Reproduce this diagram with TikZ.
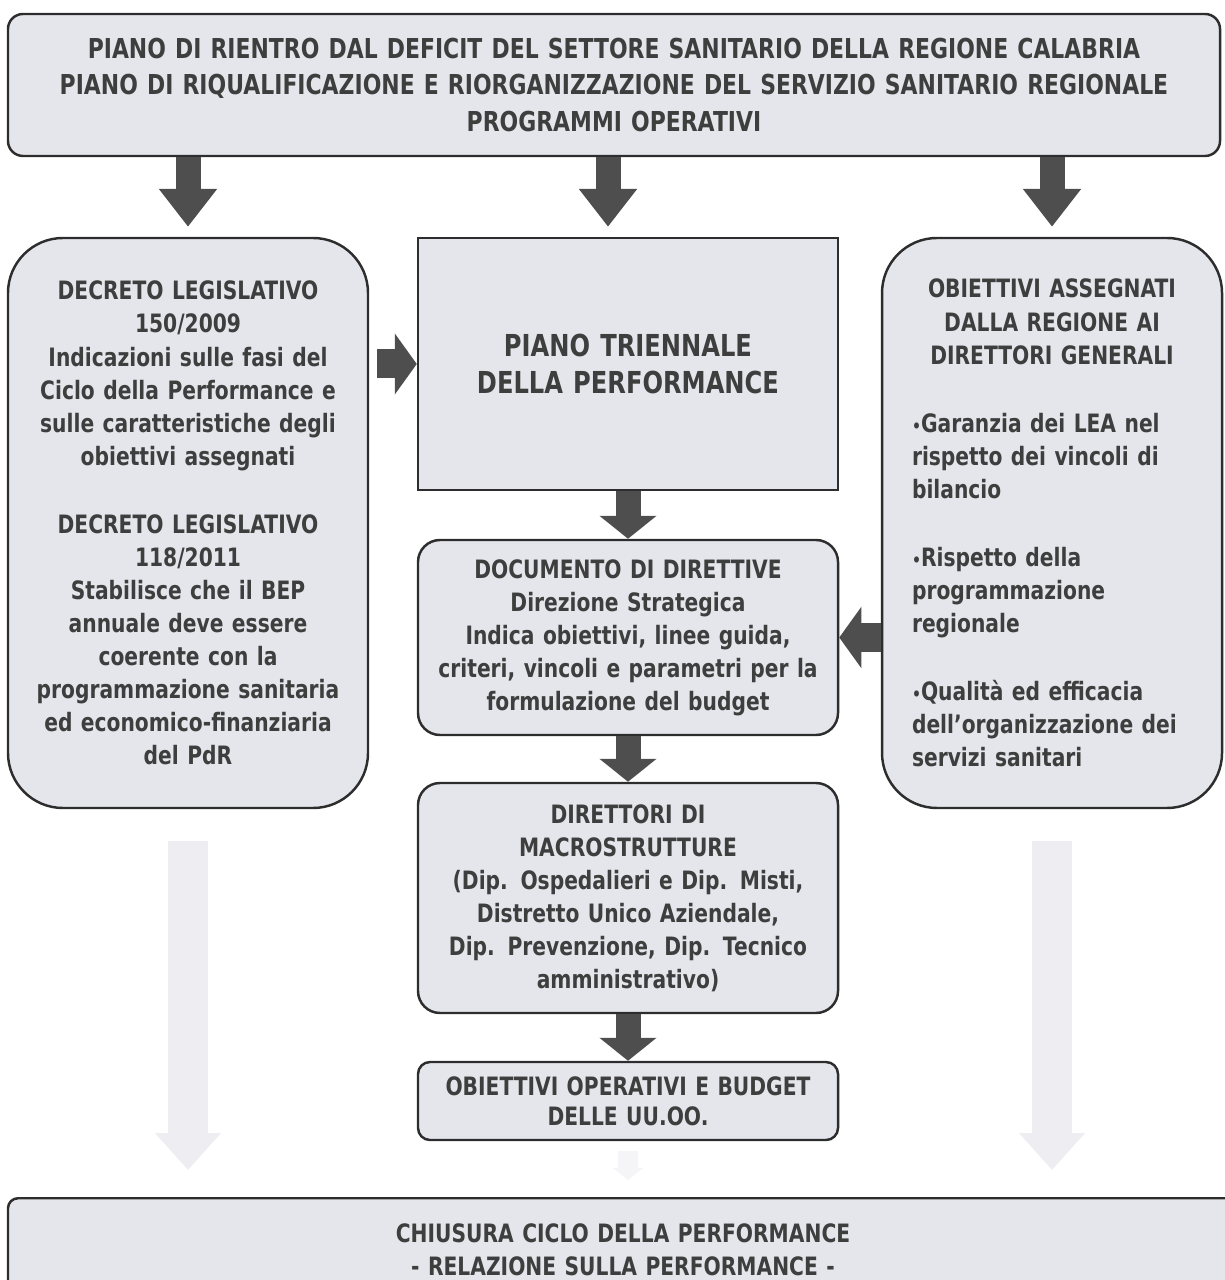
\documentclass[tikz,border=0pt]{standalone}
\usepackage[rgb]{xcolor}
\usepackage{fontspec}
\setmainfont{DejaVu Sans}[FakeStretch=0.8]
\usepackage{tikz}
\usetikzlibrary{arrows.meta}

\definecolor{boxgray}{RGB}{229,230,235}
\definecolor{linegray}{RGB}{45,45,45}
\definecolor{arrowgray}{RGB}{78,78,78}
\definecolor{textgray}{RGB}{62,62,62}
\definecolor{fadegray}{RGB}{238,238,242}

\begin{document}
\begin{tikzpicture}[
  box/.style={draw=linegray, fill=boxgray, line width=0.7pt, text=textgray, align=center,
    inner sep=0pt, font=\bfseries\fontsize{7.2}{9.4}\selectfont},
  bigarrow/.style={draw=arrowgray, line width=2.5mm, -{Triangle[width=5.6mm,length=3.8mm]}},
  midarrow/.style={draw=arrowgray, line width=2.5mm, -{Triangle[width=5.6mm,length=2.3mm]}},
  sidearrow/.style={draw=arrowgray, line width=2.9mm, -{Triangle[width=6mm,length=2.2mm]}},
  fadearrow/.style={draw=fadegray, line width=4mm, -{Triangle[width=6.4mm,length=3.7mm]}}
]

\useasboundingbox (0,0) rectangle (12.24,-12.80);


% Piano di rientro
\path
(6.14,-0.85) node[box, rounded corners=0.15cm, minimum width=12.12cm, minimum height=1.42cm,
  text width=12cm, font=\bfseries\fontsize{7.8}{10.5}\selectfont] (rientro)
  {PIANO DI RIENTRO DAL DEFICIT DEL SETTORE SANITARIO DELLA REGIONE CALABRIA\\
   PIANO DI RIQUALIFICAZIONE E RIORGANIZZAZIONE DEL SERVIZIO SANITARIO REGIONALE\\
   PROGRAMMI OPERATIVI};


% Decreti legislativi
\path
(1.88,-5.23) node[box, rounded corners=0.55cm, minimum width=3.6cm, minimum height=5.7cm,
  text width=3.4cm] (decreto)
  {DECRETO LEGISLATIVO\\150/2009\\Indicazioni sulle fasi del\\Ciclo della Performance e\\
   sulle caratteristiche degli\\obiettivi assegnati\\[0.35cm]
   DECRETO LEGISLATIVO\\118/2011\\Stabilisce che il BEP\\annuale deve essere\\
   coerente con la\\programmazione sanitaria\\ed economico-finanziaria\\del PdR};


% Obiettivi della regione
\path
(10.52,-5.23) node[box, rounded corners=0.55cm, minimum width=3.4cm, minimum height=5.7cm,
  text width=2.8cm, align=left] (obreg)
  {{\centering OBIETTIVI ASSEGNATI\\DALLA REGIONE AI\\DIRETTORI GENERALI\par}\vspace{0.35cm}
   {\fontsize{5}{5}\selectfont •}Garanzia dei LEA nel\\rispetto dei vincoli di\\bilancio\\[0.35cm]
   {\fontsize{5}{5}\selectfont •}Rispetto della\\programmazione\\regionale\\[0.35cm]
   {\fontsize{5}{5}\selectfont •}Qualità ed efficacia\\dell’organizzazione dei\\servizi sanitari};


% Colonna centrale
\path
(6.28,-3.64) node[box, minimum width=4.2cm, minimum height=2.52cm, text width=4cm,
  font=\bfseries\fontsize{8.6}{10.5}\selectfont] (piano)
  {PIANO TRIENNALE\\DELLA PERFORMANCE}
(6.28,-6.375) node[box, rounded corners=0.22cm, minimum width=4.2cm, minimum height=1.95cm,
  text width=4cm] (documento)
  {DOCUMENTO DI DIRETTIVE\\Direzione Strategica\\Indica obiettivi, linee guida,\\
   criteri, vincoli e parametri per la\\formulazione del budget}
(6.28,-8.98) node[box, rounded corners=0.22cm, minimum width=4.2cm, minimum height=2.3cm,
  text width=4cm] (direttori)
  {DIRETTORI DI\\MACROSTRUTTURE\\(Dip. Ospedalieri e Dip. Misti,\\Distretto Unico Aziendale,\\
   Dip. Prevenzione, Dip. Tecnico\\amministrativo)}
(6.28,-11.01) node[box, rounded corners=0.12cm, minimum width=4.2cm, minimum height=0.78cm,
  text width=4cm, font=\bfseries\fontsize{7.2}{8.6}\selectfont] (operativi)
  {OBIETTIVI OPERATIVI E BUDGET\\DELLE UU.OO.};


% Chiusura ciclo
\path
(6.23,-11.97) node[box, anchor=north, rounded corners=0.1cm, minimum width=12.3cm,
  text width=12cm, inner ysep=0.25cm] (chiusura)
  {CHIUSURA CICLO DELLA PERFORMANCE\\- RELAZIONE SULLA PERFORMANCE -\\[0.3cm]};


% Frecce
\draw[bigarrow, shorten >=0.1cm] (rientro.south -| decreto.north) -- (decreto.north);
\draw[bigarrow, shorten >=0.1cm] ([xshift=-2mm]piano.north |- rientro.south) -- ([xshift=-2mm]piano.north);
\draw[bigarrow, shorten >=0.1cm] (rientro.south -| obreg.north) -- (obreg.north);

\draw[sidearrow, shorten <=0.08cm] (decreto.east |- piano.west) -- (piano.west);
\draw[sidearrow] (obreg.west |- documento.east) -- (documento.east);

\draw[midarrow] (piano.south) -- (documento.north);
\draw[midarrow] (documento.south) -- (direttori.north);
\draw[midarrow] (direttori.south) -- (operativi.north);

\draw[fadearrow, shorten <=0.32cm, shorten >=0.27cm] (decreto.south) -- (chiusura.north -| decreto.south);
\draw[fadearrow, shorten <=0.32cm, shorten >=0.27cm] (obreg.south) -- (chiusura.north -| obreg.south);
\draw[fadearrow, draw=fadegray!60, line width=2mm, -{Triangle[width=3mm,length=1.2mm]},
  shorten <=0.1cm, shorten >=0.17cm] (operativi.south) -- (chiusura.north -| operativi.south);


\end{tikzpicture}
\end{document}
